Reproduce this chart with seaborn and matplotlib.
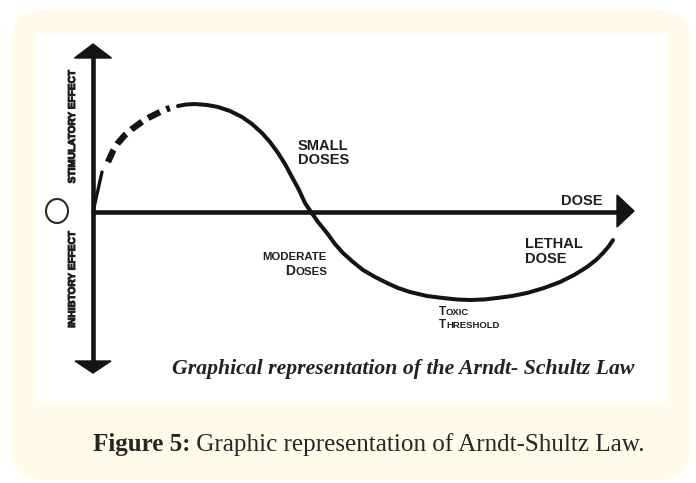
import numpy as np
import pandas as pd
import seaborn as sns
import matplotlib
matplotlib.use("Agg")
import matplotlib.pyplot as plt
import matplotlib.patheffects as pe
from matplotlib.patches import FancyBboxPatch, Rectangle, Polygon, Ellipse
from matplotlib import font_manager as fm

# ---------------- data (dose units along the x axis, effect units along y) -------------
onset_dose = [0.0, 0.166]
onset_effect = [0.0, 0.739]

dashed_dose = [0.277, 0.370, 0.462, 0.591, 0.721, 0.924, 1.054, 1.238, 1.368, 1.42]
dashed_effect = [0.924, 1.128, 1.275, 1.423, 1.534, 1.682, 1.756, 1.848, 1.904, 1.92]

solid_dose = [1.571, 1.719, 1.885, 2.107, 2.311, 2.532, 2.754, 2.939, 3.124, 3.272,
              3.420, 3.549, 3.678, 3.808, 3.919, 4.030, 4.159, 4.325, 4.473, 4.621,
              4.806, 4.991, 5.213, 5.434, 5.638, 5.860, 6.174, 6.470, 6.728, 6.969,
              7.227, 7.468, 7.745, 8.022, 8.336, 8.632, 8.891, 9.131, 9.298, 9.427,
              9.538, 9.612]
solid_effect = [1.959, 1.987, 1.996, 1.978, 1.941, 1.867, 1.756, 1.627, 1.460, 1.294,
                1.091, 0.887, 0.647, 0.407, 0.166, 0.0, -0.185, -0.388, -0.591, -0.758,
                -0.924, -1.072, -1.201, -1.312, -1.405, -1.479, -1.553, -1.590, -1.617,
                -1.627, -1.617, -1.590, -1.553, -1.497, -1.405, -1.294, -1.165, -1.017,
                -0.887, -0.758, -0.628, -0.518]

x_label = "DOSE"
up_label = "STIMULATORY EFFECT"
down_label = "INHIBTORY EFFECT"
small_label = ["SMALL", "DOSES"]
lethal_label = ["LETHAL", "DOSE"]
inner_caption = "Graphical representation of the Arndt- Schultz Law"
fig_caption_bold = "Figure 5:"
fig_caption_rest = "Graphic representation of Arndt-Shultz Law."

# ---------------- layout helpers ----------------
W, H = 696, 483
S = 54.1
X0, Y0 = 93, 212


def d_x(px):
    return (px - X0) / S


def d_y(py):
    return (Y0 - py) / S


sns.set_theme(style="white")
plt.rcParams["font.family"] = ["Liberation Sans", "DejaVu Sans"]
plt.rcParams["lines.scale_dashes"] = False

names = {f.name for f in fm.fontManager.ttflist}
narrow = "Liberation Sans Narrow" if "Liberation Sans Narrow" in names else (
    "DejaVu Sans Condensed" if "DejaVu Sans Condensed" in names else "Liberation Sans")

INK = "#141414"
TXT = "#1e1e1e"

fig = plt.figure(figsize=(W / 100, H / 100), dpi=100)
fig.patch.set_facecolor("white")

bg = fig.add_axes([0, 0, 1, 1], zorder=0)
bg.set_xlim(0, W)
bg.set_ylim(H, 0)
bg.axis("off")
bg.add_patch(FancyBboxPatch((12, 10), 678, 470, boxstyle="round,pad=0,rounding_size=30",
                            facecolor="#fffbe8", edgecolor="none"))
bg.add_patch(Rectangle((35, 33), 633, 369, facecolor="white", edgecolor="none"))

ax = fig.add_axes([0, 0, 1, 1], zorder=2)
ax.patch.set_alpha(0)
ax.set_xlim(d_x(0), d_x(W))
ax.set_ylim(d_y(H), d_y(0))
ax.axis("off")

# axes lines
ax.plot([0, 0], [d_y(57), d_y(362)], color=INK, lw=3.3, solid_capstyle="butt")
ax.plot([0, d_x(619)], [0, 0], color=INK, lw=3.3, solid_capstyle="butt")
# arrow heads
bg.add_patch(Polygon([(93, 44), (74.5, 58), (111.5, 58)], closed=True, color=INK, zorder=3))
bg.add_patch(Polygon([(93, 373), (75, 361), (111, 361)], closed=True, color=INK, zorder=3))
bg.add_patch(Polygon([(634, 211), (617, 195), (617, 227)], closed=True, color=INK, zorder=3))

# curve
sns.lineplot(x=onset_dose, y=onset_effect, sort=False, estimator=None, ax=ax,
             color=INK, lw=2.4)
sns.lineplot(x=dashed_dose, y=dashed_effect, sort=False, estimator=None, ax=ax,
             color=INK, lw=4.6)
ax.lines[-1].set_dashes([9.6, 5.0])
ax.lines[-1].set_dash_capstyle("butt")
sns.lineplot(x=solid_dose, y=solid_effect, sort=False, estimator=None, ax=ax,
             color=INK, lw=2.9)
ax.lines[-1].set_solid_capstyle("round")
ax.lines[-1].set_solid_joinstyle("round")

# null-effect circle
bg.add_patch(Ellipse((57, 211), 22, 24, facecolor="none", edgecolor="#2a2a2a", lw=1.5))

fig.canvas.draw()
R = fig.canvas.get_renderer()


def width(t):
    return t.get_window_extent(R).width


def height(t):
    return t.get_window_extent(R).height


def label(x, y, s, size, ha="left", **kw):
    return bg.text(x, y, s, fontsize=size, ha=ha, va="baseline", color=TXT,
                   fontweight="bold", **kw)


def smallcaps(x, y, parts, ha="left"):
    items = []
    cx = x
    for s, size in parts:
        t = label(cx, y, s, size)
        cx += width(t)
        items.append(t)
    if ha == "right":
        shift = cx - x
        for t in items:
            px, py = t.get_position()
            t.set_position((px - shift, py))
    return items


label(603, 205, x_label, 10.5, ha="right")
label(298, 150, small_label[0], 10.5)
label(298, 164, small_label[1], 10.5)
label(525, 248, lethal_label[0], 10.5)
label(525, 263, lethal_label[1], 10.5)

smallcaps(327, 260, [("MODERATE", 8.2)], ha="right")
smallcaps(327, 275, [("D", 10.0), ("OSES", 8.2)], ha="right")
smallcaps(439, 315, [("T", 8.4), ("OXIC", 6.8)])
smallcaps(439, 328, [("T", 8.4), ("HRESHOLD", 6.8)])

heavy = [pe.withStroke(linewidth=0.7, foreground=TXT)]
t_up = bg.text(72, 126.5, up_label, rotation=90, ha="center", va="center",
               fontsize=10, color=TXT, fontweight="bold", family=[narrow, "DejaVu Sans"])
t_up.set_fontsize(10 * 113 / height(t_up))
t_up.set_path_effects(heavy)
t_dn = bg.text(72, 279.5, down_label, rotation=90, ha="center", va="center",
               fontsize=t_up.get_fontsize(), color=TXT, fontweight="bold",
               family=[narrow, "DejaVu Sans"], path_effects=heavy)

# inner caption (bold italic serif)
t_in = bg.text(172, 374, inner_caption, fontsize=11, ha="left", va="baseline",
               color="#222222", fontweight="bold", fontstyle="italic",
               family=["Liberation Serif", "DejaVu Serif"])
t_in.set_fontsize(11 * 463 / width(t_in))

# figure caption
serif = ["Liberation Serif", "DejaVu Serif"]
cap_b = bg.text(93, 451, fig_caption_bold, fontsize=17, ha="left", va="baseline",
                color="#262626", fontweight="bold", family=serif)
cap_r = bg.text(93, 451, " " + fig_caption_rest, fontsize=17, ha="left", va="baseline",
                color="#262626", family=serif)
total = width(cap_b) + width(cap_r)
k = 553 / total
cap_b.set_fontsize(17 * k)
cap_r.set_fontsize(17 * k)
cap_r.set_position((93 + width(cap_b), 451))

fig.savefig("out.png", dpi=100, facecolor="white")
